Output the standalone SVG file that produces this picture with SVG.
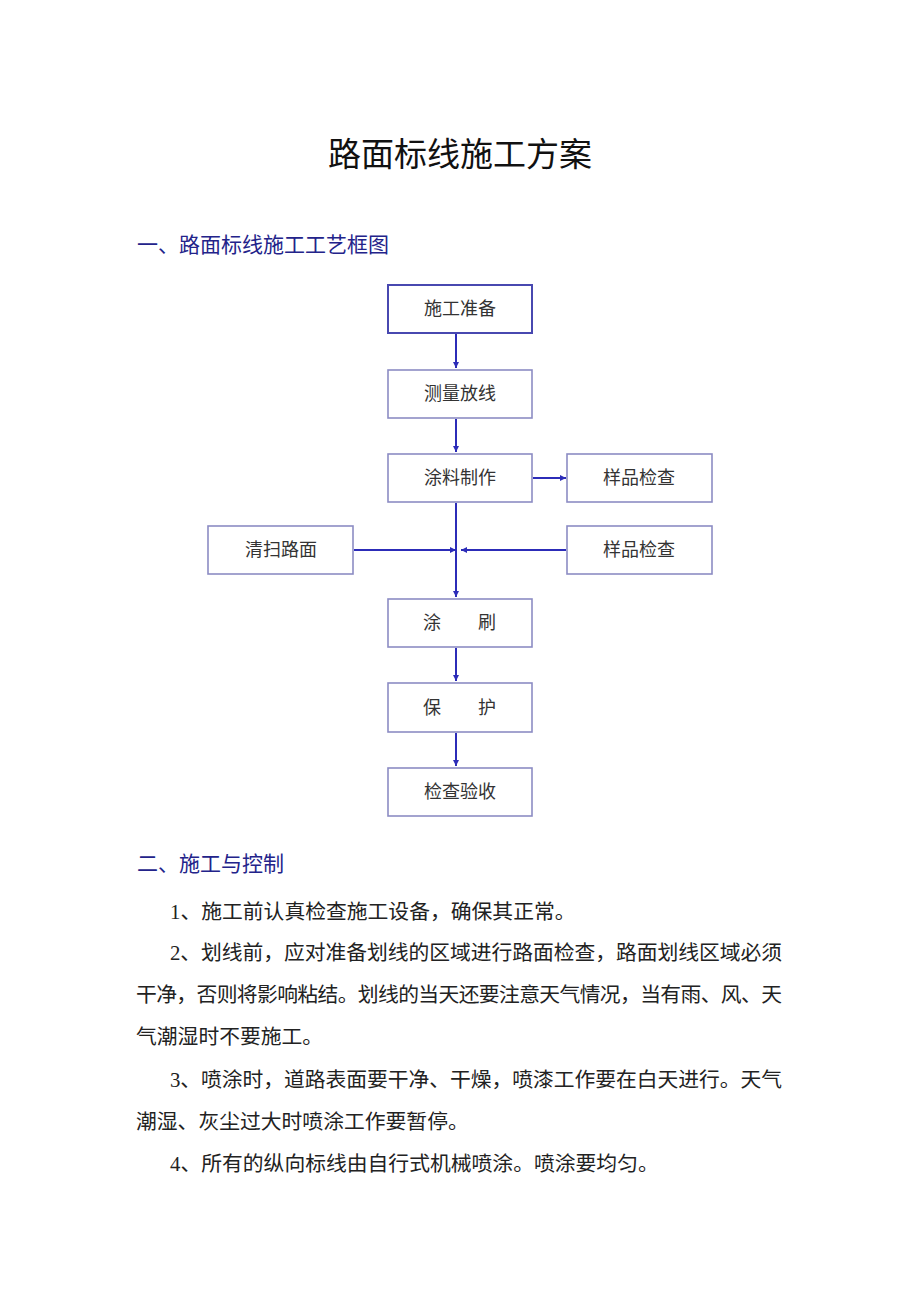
<svg xmlns="http://www.w3.org/2000/svg" width="920" height="1301" viewBox="0 0 920 1301">
<style>
.bg{fill:#ffffff}
.box{fill:#ffffff;stroke:#8c8cc4;stroke-width:1.6}
.box1{fill:#ffffff;stroke:#4848b0;stroke-width:2}
.bt{font-family:"Liberation Serif","Noto Sans CJK SC",serif;font-size:18px;fill:#333333;text-anchor:middle}
.bts{font-family:"Liberation Serif","Noto Sans CJK SC",serif;font-size:18px;fill:#333333}
.title{font-family:"Liberation Sans","Noto Sans CJK SC",sans-serif;font-size:33px;fill:#111111;text-anchor:middle}
.h{font-family:"Liberation Sans","Noto Sans CJK SC",sans-serif;font-size:21px;fill:#23238a}
.p{font-family:"Liberation Serif","Noto Sans CJK SC",serif;font-size:20.8px;fill:#222222}
.c{stroke:#2c2cb8;stroke-width:2;fill:none}
</style>
<defs>
<marker id="ah" viewBox="0 0 10 10" refX="10" refY="5" markerWidth="6" markerHeight="6" markerUnits="userSpaceOnUse" orient="auto">
<path d="M0,0 L10,5 L0,10 z" fill="#2c2cb8"/>
</marker>
</defs>
<rect class="bg" x="0" y="0" width="920" height="1301"/>
<text class="title" x="460" y="166">路面标线施工方案</text>
<text class="h" x="137" y="252">一、路面标线施工工艺框图</text>

<g id="connectors">
<line class="c" x1="456" y1="334" x2="456" y2="368" marker-end="url(#ah)"/>
<line class="c" x1="456" y1="419" x2="456" y2="452" marker-end="url(#ah)"/>
<line class="c" x1="533" y1="478" x2="566" y2="478" marker-end="url(#ah)"/>
<line class="c" x1="456" y1="503" x2="456" y2="597" marker-end="url(#ah)"/>
<line class="c" x1="354" y1="550" x2="456" y2="550" marker-end="url(#ah)"/>
<line class="c" x1="566" y1="550" x2="461" y2="550" marker-end="url(#ah)"/>
<line class="c" x1="456" y1="648" x2="456" y2="681" marker-end="url(#ah)"/>
<line class="c" x1="456" y1="733" x2="456" y2="766" marker-end="url(#ah)"/>
</g>

<g id="n1"><rect class="box1" x="388" y="285" width="144" height="48"/><text class="bt" x="460" y="315">施工准备</text></g>
<g id="n2"><rect class="box" x="388" y="370" width="144" height="48"/><text class="bt" x="460" y="400">测量放线</text></g>
<g id="n3"><rect class="box" x="388" y="454" width="144" height="48"/><text class="bt" x="460" y="484">涂料制作</text></g>
<g id="n4"><rect class="box" x="567" y="454" width="145" height="48"/><text class="bt" x="639" y="484">样品检查</text></g>
<g id="n5"><rect class="box" x="208" y="526" width="145" height="48"/><text class="bt" x="281" y="556">清扫路面</text></g>
<g id="n6"><rect class="box" x="567" y="526" width="145" height="48"/><text class="bt" x="639" y="556">样品检查</text></g>
<g id="n7"><rect class="box" x="388" y="599" width="144" height="48"/><text class="bts" x="423" y="629">涂</text><text class="bts" x="478" y="629">刷</text></g>
<g id="n8"><rect class="box" x="388" y="683" width="144" height="49"/><text class="bts" x="423" y="714">保</text><text class="bts" x="478" y="714">护</text></g>
<g id="n9"><rect class="box" x="388" y="768" width="144" height="48"/><text class="bt" x="460" y="798">检查验收</text></g>

<text class="h" x="137" y="871">二、施工与控制</text>
<text class="p" x="170" y="919">1、施工前认真检查施工设备，确保其正常。</text>
<text class="p" x="170" y="960" textLength="612" lengthAdjust="spacing">2、划线前，应对准备划线的区域进行路面检查，路面划线区域必须</text>
<text class="p" x="136" y="1002" textLength="646" lengthAdjust="spacing">干净，否则将影响粘结。划线的当天还要注意天气情况，当有雨、风、天</text>
<text class="p" x="136" y="1044">气潮湿时不要施工。</text>
<text class="p" x="170" y="1087" textLength="612" lengthAdjust="spacing">3、喷涂时，道路表面要干净、干燥，喷漆工作要在白天进行。天气</text>
<text class="p" x="136" y="1129">潮湿、灰尘过大时喷涂工作要暂停。</text>
<text class="p" x="170" y="1171">4、所有的纵向标线由自行式机械喷涂。喷涂要均匀。</text>
</svg>
